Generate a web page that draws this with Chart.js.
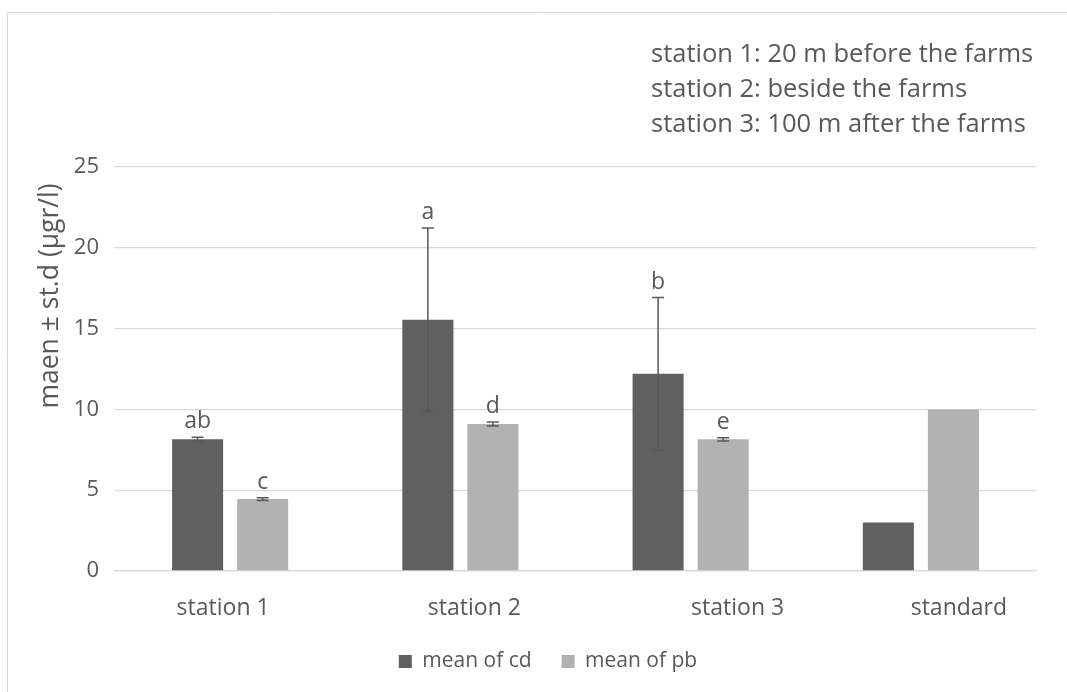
<!DOCTYPE html>
<html>
<head>
<meta charset="utf-8">
<script src="https://cdn.jsdelivr.net/npm/chart.js@4/dist/chart.umd.min.js"></script>
<style>
  html, body { margin: 0; padding: 0; background: #fff; }
  #wrap { position: relative; width: 1067px; height: 692px; }
</style>
</head>
<body>
<div id="wrap"><canvas id="chart"></canvas></div>
<script>
const categories = ['station 1', 'station 2', 'station 3', 'standard'];
const cdMean = [8.15, 15.55, 12.2, 3];
const cdSd = [0.12, 5.68, 4.72, null];
const pbMean = [4.45, 9.1, 8.15, 10];
const pbSd = [0.08, 0.12, 0.1, null];
const cdLetters = ['ab', 'a', 'b', ''];
const pbLetters = ['c', 'd', 'e', ''];
const yTicks = [0, 5, 10, 15, 20, 25];
const notes = [
  'station 1: 20 m before the farms',
  'station 2: beside the farms',
  'station 3: 100 m after the farms',
];
const yTitle = 'maen \u00b1 st.d (\u00b5gr/l)';

const FONT = '"Open Sans", "Noto Sans", sans-serif';
const TEXT = '#595959';
// category labels sit a bit off-centre in the original
const labelShift = [-7, 14, 47, 38];

const extras = {
  id: 'extras',
  beforeDraw(chart) {
    const { ctx } = chart;
    ctx.save();
    ctx.strokeStyle = '#d9d9d9';
    ctx.lineWidth = 1;
    ctx.beginPath();
    ctx.moveTo(7.5, 692);
    ctx.lineTo(7.5, 12.5);
    ctx.lineTo(1067, 12.5);
    ctx.stroke();
    ctx.restore();
  },
  afterDatasetsDraw(chart) {
    const { ctx } = chart;
    const y = chart.scales.y;
    const sets = [[cdMean, cdSd, cdLetters], [pbMean, pbSd, pbLetters]];
    ctx.save();
    sets.forEach(([mean, sd, letters], di) => {
      const meta = chart.getDatasetMeta(di);
      meta.data.forEach((bar, i) => {
        let top = y.getPixelForValue(mean[i]);
        if (sd[i] != null) {
          const hi = y.getPixelForValue(mean[i] + sd[i]);
          const lo = y.getPixelForValue(mean[i] - sd[i]);
          ctx.strokeStyle = TEXT;
          ctx.lineWidth = 1.5;
          ctx.beginPath();
          ctx.moveTo(bar.x, hi); ctx.lineTo(bar.x, lo);
          ctx.moveTo(bar.x - 6, hi); ctx.lineTo(bar.x + 6, hi);
          ctx.moveTo(bar.x - 6, lo); ctx.lineTo(bar.x + 6, lo);
          ctx.stroke();
          top = hi;
        }
        if (letters[i]) {
          ctx.fillStyle = TEXT;
          ctx.font = '23px ' + FONT;
          ctx.textAlign = 'center';
          ctx.textBaseline = 'alphabetic';
          ctx.fillText(letters[i], bar.x, top - 9);
        }
      });
    });
    ctx.restore();
  },
  afterDraw(chart) {
    const { ctx, chartArea } = chart;
    const x = chart.scales.x;
    ctx.save();
    ctx.fillStyle = TEXT;
    // category labels
    ctx.font = '23px ' + FONT;
    ctx.textAlign = 'center';
    ctx.textBaseline = 'middle';
    categories.forEach((c, i) => {
      ctx.fillText(c, x.getPixelForValue(i) + labelShift[i], chartArea.bottom + 37);
    });
    // notes top right
    ctx.font = '25.5px ' + FONT;
    ctx.textAlign = 'left';
    notes.forEach((t, i) => ctx.fillText(t, 651, 55 + i * 35));
    // y title
    ctx.font = '26.5px ' + FONT;
    ctx.translate(50, 296);
    ctx.rotate(-Math.PI / 2);
    ctx.textAlign = 'center';
    ctx.fillText(yTitle, 0, 0);
    ctx.restore();
  },
};

new Chart(document.getElementById('chart'), {
  type: 'bar',
  data: {
    labels: categories,
    datasets: [
      { label: 'mean of cd', data: cdMean, backgroundColor: '#606060' },
      { label: 'mean of pb', data: pbMean, backgroundColor: '#b2b2b2' },
    ],
  },
  options: {
    responsive: true,
    maintainAspectRatio: false,
    animation: false,
    categoryPercentage: 0.565,
    barPercentage: 0.785,
    layout: { padding: { top: 167, left: 60, right: 31, bottom: 10 } },
    plugins: {
      tooltip: { enabled: false },
      legend: {
        position: 'bottom',
        labels: { boxWidth: 13, boxHeight: 13, padding: 30, color: TEXT, font: { family: FONT, size: 21 } },
      },
    },
    scales: {
      x: {
        grid: { display: false },
        border: { color: '#d9d9d9', width: 1.3 },
        ticks: { display: false },
        afterFit: (s) => { s.height = 50; },
      },
      y: {
        min: 0,
        max: 25,
        afterBuildTicks: (s) => { s.ticks = yTicks.map((v) => ({ value: v })); },
        grid: { color: '#d9d9d9', lineWidth: 1.3, drawTicks: false },
        border: { display: false },
        ticks: { padding: 16, color: TEXT, font: { family: FONT, size: 22 } },
        afterFit: (s) => { s.width = 55; },
      },
    },
  },
  plugins: [extras],
});
</script>
</body>
</html>
